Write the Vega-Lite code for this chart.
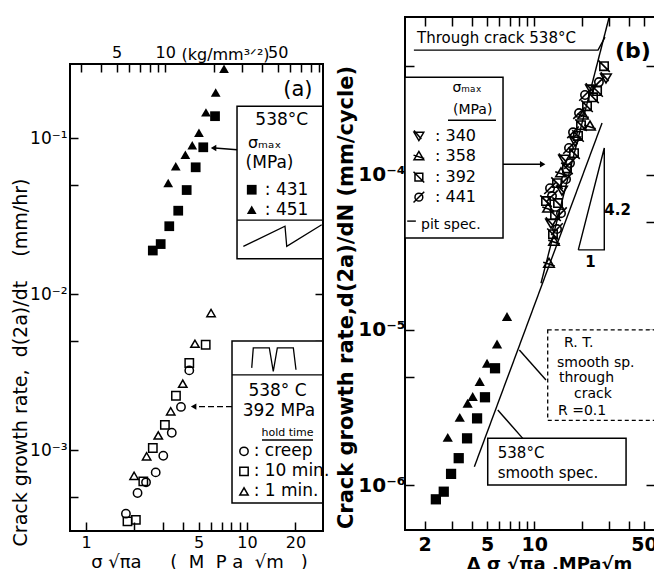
{
 "$schema": "https://vega.github.io/schema/vega-lite/v6.json",
 "padding": {"left": 11, "top": 13, "right": 0, "bottom": 0},
 "spacing": 4,
 "config": {
  "view": {"stroke": "black", "strokeWidth": 2},
  "axis": {"domain": false, "grid": false, "tickColor": "black", "tickWidth": 1.5, "labelColor": "black", "titleColor": "black", "labelFont": "DejaVu Sans", "titleFont": "DejaVu Sans", "labelFlush": false, "labelOverlap": false, "labelBound": false},
  "text": {"font": "DejaVu Sans", "color": "black"}
 },
 "datasets": {
  "a_frame": [{"x":0.7955,"x2":29.65,"y":0.0003027,"y2":0.298}],
  "a_filled": [
   {"x":6.33,"y":0.138,"s":"431"},{"x":5.35,"y":0.0872,"s":"431"},{"x":4.80,"y":0.0649,"s":"431"},{"x":4.22,"y":0.0464,"s":"431"},{"x":3.74,"y":0.0342,"s":"431"},{"x":3.29,"y":0.0272,"s":"431"},{"x":2.91,"y":0.0209,"s":"431"},{"x":2.60,"y":0.0190,"s":"431"},
   {"x":7.20,"y":0.278,"s":"451"},{"x":6.39,"y":0.196,"s":"451"},{"x":5.56,"y":0.146,"s":"451"},{"x":5.03,"y":0.108,"s":"451"},{"x":4.57,"y":0.0898,"s":"451"},{"x":4.14,"y":0.0782,"s":"451"},{"x":3.61,"y":0.0659,"s":"451"},{"x":3.24,"y":0.0515,"s":"451"}
  ],
  "a_open": [
   {"x":5.98,"y":0.00755,"s":"1 min."},{"x":4.75,"y":0.0048,"s":"1 min."},{"x":3.99,"y":0.00266,"s":"1 min."},{"x":3.36,"y":0.00177,"s":"1 min."},{"x":2.81,"y":0.00124,"s":"1 min."},{"x":2.38,"y":0.000912,"s":"1 min."},{"x":1.99,"y":0.000684,"s":"1 min."},
   {"x":5.54,"y":0.00473,"s":"10 min."},{"x":4.38,"y":0.00361,"s":"10 min."},{"x":3.62,"y":0.00223,"s":"10 min."},{"x":3.09,"y":0.00145,"s":"10 min."},{"x":2.60,"y":0.00103,"s":"10 min."},{"x":2.27,"y":0.00063,"s":"10 min."},{"x":2.04,"y":0.000357,"s":"10 min."},{"x":1.81,"y":0.000349,"s":"10 min."},
   {"x":4.38,"y":0.00324,"s":"creep"},{"x":3.89,"y":0.00189,"s":"creep"},{"x":3.41,"y":0.00129,"s":"creep"},{"x":3.02,"y":0.000919,"s":"creep"},{"x":2.71,"y":0.000719,"s":"creep"},{"x":2.36,"y":0.000621,"s":"creep"},{"x":2.09,"y":0.00053,"s":"creep"},{"x":1.77,"y":0.000391,"s":"creep"}
  ],
  "a_legf": [{"x":10.7,"y":0.0466,"s":"431"},{"x":10.7,"y":0.0347,"s":"451"}],
  "a_lego": [{"x":9.58,"y":0.000981,"s":"creep"},{"x":9.58,"y":0.00073,"s":"10 min."},{"x":9.58,"y":0.000543,"s":"1 min."}],
  "a_boxes": [{"x":8.67,"x2":29.65,"y":0.160,"y2":0.0168},{"x":8.07,"x2":29.65,"y":0.0050,"y2":0.000457}],
  "a_lines": [
   {"id":"W","o":1,"x":9.49,"y":0.0202},{"id":"W","o":2,"x":17.22,"y":0.0272},{"id":"W","o":3,"x":17.65,"y":0.0202},{"id":"W","o":4,"x":29.1,"y":0.0278},
   {"id":"P","o":1,"x":8.67,"y":0.0298},{"id":"P","o":2,"x":29.65,"y":0.0298},
   {"id":"Q","o":1,"x":8.07,"y":0.00303},{"id":"Q","o":2,"x":29.65,"y":0.00303},
   {"id":"V","o":1,"x":10.7,"y":0.00336},{"id":"V","o":2,"x":10.94,"y":0.00451},{"id":"V","o":3,"x":13.76,"y":0.00451},{"id":"V","o":4,"x":14.56,"y":0.00319},{"id":"V","o":5,"x":15.43,"y":0.00451},{"id":"V","o":6,"x":19.4,"y":0.00451},{"id":"V","o":7,"x":20.15,"y":0.00327},
   {"id":"H","o":1,"x":12.39,"y":0.00116},{"id":"H","o":2,"x":25.7,"y":0.00116},
   {"id":"X1","o":1,"x":8.67,"y":0.0841},{"id":"X1","o":2,"x":6.3,"y":0.0863}
  ],
  "a_dash": [{"id":"X2","o":1,"x":8.07,"y":0.0019},{"id":"X2","o":2,"x":4.75,"y":0.0019}],
  "a_heads": [{"x":6.2,"y":0.0863},{"x":4.66,"y":0.0019}],
  "a_tc": [{"x":16.43,"y":0.130,"t":"538°C"},{"x":15.47,"y":0.00240,"t":"538° C"},{"x":15.8,"y":0.00178,"t":"392 MPa"}],
  "a_tm": [{"x":13.8,"y":0.0689,"t":"(MPa)"}],
  "a_tl": [{"x":12.9,"y":0.0466,"t":": 431"},{"x":12.9,"y":0.0347,"t":": 451"},{"x":11.0,"y":0.000981,"t":": creep"},{"x":11.0,"y":0.00073,"t":": 10 min."},{"x":11.0,"y":0.000543,"t":": 1 min."}],
  "a_tsig": [{"x":10.14,"y":0.0925,"t":"σₘₐₓ"}],
  "a_ts": [{"x":17.85,"y":0.00129,"t":"hold time"}],
  "a_tlab": [{"x":20.7,"y":0.203,"t":"(a)"}],
  "b_filled": [
   {"x":6.70,"y":1.22e-5,"s":"tri"},{"x":5.79,"y":8.12e-6,"s":"tri"},{"x":5.00,"y":6.10e-6,"s":"tri"},{"x":4.49,"y":4.65e-6,"s":"tri"},{"x":4.05,"y":3.72e-6,"s":"tri"},{"x":3.76,"y":3.37e-6,"s":"tri"},{"x":3.35,"y":2.73e-6,"s":"tri"},{"x":2.81,"y":2.03e-6,"s":"tri"},
   {"x":5.62,"y":5.66e-6,"s":"sq"},{"x":4.85,"y":3.68e-6,"s":"sq"},{"x":4.32,"y":2.69e-6,"s":"sq"},{"x":3.73,"y":2.00e-6,"s":"sq"},{"x":3.30,"y":1.49e-6,"s":"sq"},{"x":2.95,"y":1.18e-6,"s":"sq"},{"x":2.65,"y":9.06e-7,"s":"sq"},{"x":2.36,"y":8.09e-7,"s":"sq"}
  ],
  "b_pit": [
   {"x":27.8,"y":5.02e-4,"s":"392"},{"x":28.6,"y":4.21e-4,"s":"340"},{"x":25.8,"y":3.96e-4,"s":"441"},{"x":25.1,"y":3.47e-4,"s":"392"},{"x":22.96,"y":3.57e-4,"s":"340"},{"x":21.03,"y":3.27e-4,"s":"441"},{"x":23.65,"y":3.16e-4,"s":"392"},{"x":21.66,"y":2.77e-4,"s":"392"},{"x":19.27,"y":2.50e-4,"s":"441"},{"x":20.43,"y":2.43e-4,"s":"358"},{"x":19.84,"y":2.09e-4,"s":"392"},{"x":22.63,"y":2.06e-4,"s":"358"},
   {"x":17.64,"y":1.88e-4,"s":"441"},{"x":18.98,"y":1.78e-4,"s":"392"},{"x":18.16,"y":1.65e-4,"s":"340"},{"x":16.63,"y":1.49e-4,"s":"441"},{"x":17.90,"y":1.38e-4,"s":"392"},{"x":15.46,"y":1.26e-4,"s":"340"},{"x":16.88,"y":1.19e-4,"s":"441"},{"x":16.15,"y":1.10e-4,"s":"392"},{"x":14.79,"y":1.03e-4,"s":"358"},{"x":15.92,"y":9.38e-5,"s":"441"},{"x":13.95,"y":8.84e-5,"s":"392"},{"x":15.01,"y":7.96e-5,"s":"340"},
   {"x":12.96,"y":7.29e-5,"s":"441"},{"x":14.16,"y":6.57e-5,"s":"392"},{"x":12.23,"y":6.10e-5,"s":"358"},{"x":13.55,"y":5.49e-5,"s":"392"},{"x":14.79,"y":5.66e-5,"s":"441"},{"x":12.78,"y":4.88e-5,"s":"340"},{"x":13.95,"y":4.47e-5,"s":"441"},{"x":13.15,"y":4.14e-5,"s":"392"},{"x":13.35,"y":3.73e-5,"s":"358"},{"x":12.40,"y":2.69e-5,"s":"358"},{"x":11.87,"y":6.77e-5,"s":"392"},{"x":12.59,"y":8.20e-5,"s":"441"}
  ],
  "b_leg": [{"x":1.84,"y":1.78e-4,"s":"340"},{"x":1.84,"y":1.32e-4,"s":"358"},{"x":1.84,"y":9.66e-5,"s":"392"},{"x":1.84,"y":7.18e-5,"s":"441"}],
  "b_lines": [
   {"id":"A","o":1,"x":4.15,"y":1.31e-6},{"id":"A","o":2,"x":27.0,"y":2.16e-4},
   {"id":"B","o":1,"x":11.03,"y":2.0e-5},{"id":"B","o":2,"x":29.9,"y":1.03e-3},
   {"id":"T","o":1,"x":19.06,"y":3.28e-5},{"id":"T","o":2,"x":27.9,"y":3.28e-5},{"id":"T","o":3,"x":27.9,"y":1.49e-4},{"id":"T","o":4,"x":19.06,"y":3.28e-5},
   {"id":"U","o":1,"x":1.71,"y":6.37e-4},{"id":"U","o":2,"x":25.45,"y":6.37e-4},{"id":"U","o":3,"x":28.2,"y":7.73e-4},
   {"id":"L","o":1,"x":6.32,"y":1.17e-4},{"id":"L","o":2,"x":11.0,"y":1.17e-4},
   {"id":"R","o":1,"x":11.87,"y":4.76e-6},{"id":"R","o":2,"x":8.03,"y":7.43e-6},
   {"id":"S","o":1,"x":8.44,"y":2.0e-6},{"id":"S","o":2,"x":5.85,"y":3.05e-6},
   {"id":"M","o":1,"x":2.82,"y":2.25e-4},{"id":"M","o":2,"x":5.70,"y":2.25e-4},
   {"id":"D","o":1,"x":1.55,"y":5.03e-5},{"id":"D","o":2,"x":1.76,"y":5.03e-5}
  ],
  "b_boxes": [{"x":1.501,"x2":6.32,"y":4.26e-4,"y2":3.91e-5},{"x":5.05,"x2":38.4,"y":2.0e-6,"y2":1.0e-6}],
  "b_dbox": [{"x":12.17,"x2":58.7,"y":1.0e-5,"y2":2.61e-6}],
  "b_heads": [{"x":11.3,"y":1.17e-4}],
  "b_tleg": [{"x":2.33,"y":1.78e-4,"t":": 340"},{"x":2.33,"y":1.32e-4,"t":": 358"},{"x":2.33,"y":9.66e-5,"t":": 392"},{"x":2.33,"y":7.18e-5,"t":": 441"}],
  "b_tsc": [{"x":3.73,"y":3.62e-4,"t":"σₘₐₓ"},{"x":4.05,"y":2.61e-4,"t":"(MPa)"}],
  "b_tsl": [{"x":1.90,"y":4.73e-5,"t":"pit spec."}],
  "b_tthr": [{"x":1.79,"y":7.62e-4,"t":"Through crack 538°C"}],
  "b_tb": [{"x":42.5,"y":6.28e-4,"t":"(b)"}],
  "b_trt": [{"x":15.46,"y":8.2e-6,"t":"R. T."},{"x":13.95,"y":6.16e-6,"t":"smooth sp."},{"x":14.36,"y":4.88e-6,"t":"through"},{"x":17.9,"y":3.87e-6,"t":"crack"},{"x":14.16,"y":2.98e-6,"t":"R =0.1"}],
  "b_t538": [{"x":5.85,"y":1.60e-6,"t":"538°C"},{"x":5.85,"y":1.19e-6,"t":"smooth spec."}],
  "b_tslope": [{"x":33.9,"y":5.94e-5,"t":"4.2"},{"x":22.75,"y":2.76e-5,"t":"1"}]
 },
 "resolve": {"scale": {"x": "independent", "y": "independent", "shape": "independent"}},
 "hconcat": [
  {
   "width": 253, "height": 514,
   "view": {"stroke": null},
   "encoding": {
    "x": {"field": "x", "type": "quantitative", "scale": {"type": "log", "domain": [0.7955, 29.65], "nice": false}, "axis": null},
    "y": {"field": "y", "type": "quantitative", "scale": {"type": "log", "domain": [0.0003027, 0.5965], "nice": false}, "axis": null}
   },
   "resolve": {"axis": {"x": "independent", "y": "independent"}},
   "layer": [
    {"data": {"name": "a_boxes"}, "mark": {"type": "rect", "fill": "white", "stroke": "black", "strokeWidth": 1.5}, "encoding": {"x2": {"field": "x2"}, "y2": {"field": "y2"}}},
    {"data": {"name": "a_lines"}, "mark": {"type": "line", "color": "black", "strokeWidth": 1.3}, "encoding": {"detail": {"field": "id", "type": "nominal"}, "order": {"field": "o", "type": "quantitative"}}},
    {"data": {"name": "a_dash"}, "mark": {"type": "line", "color": "black", "strokeWidth": 1.2, "strokeDash": [6, 3]}, "encoding": {"detail": {"field": "id", "type": "nominal"}, "order": {"field": "o", "type": "quantitative"}}},
    {"data": {"name": "a_heads"}, "mark": {"type": "point", "shape": "triangle-left", "filled": true, "color": "black", "size": 40, "opacity": 1}, "encoding": {}},
    {"data": {"name": "a_filled"}, "mark": {"type": "point", "filled": true, "color": "black", "size": 95, "opacity": 1},
     "encoding": {
      "x": {"field": "x", "type": "quantitative", "scale": {"type": "log", "domain": [0.7955, 29.65], "nice": false},
            "axis": {"orient": "bottom", "values": [1,2,3,4,5,6,7,8,9,10,20], "labelExpr": "indexof([1,5,10,20], datum.value) >= 0 ? '' + datum.value : ''", "tickSize": -9, "labelPadding": 12, "labelFontSize": 16, "title": "σ\u00a0√πa\u00a0\u00a0\u00a0\u00a0\u00a0(\u00a0\u00a0M\u00a0\u00a0P\u00a0a\u00a0\u00a0√m\u00a0\u00a0\u00a0)", "titleX": 129, "titleY": 31, "titleFontSize": 18, "titleFontWeight": "normal", "titleBaseline": "middle", "titleAlign": "center"}},
      "y": {"field": "y", "type": "quantitative", "scale": {"type": "log", "domain": [0.0003027, 0.5965], "nice": false},
            "axis": {"orient": "left", "values": [0.0005, 0.001, 0.005, 0.01, 0.05, 0.1], "labelExpr": "datum.value == 0.1 ? '10⁻¹' : datum.value == 0.01 ? '10⁻²' : datum.value == 0.001 ? '10⁻³' : ''", "tickSize": -8, "labelPadding": 11, "labelFontSize": 17, "title": "Crack growth rate,\u00a0\u00a0d(2a)/dt\u00a0\u00a0\u00a0\u00a0(mm/hr)", "titleX": -50, "titleY": 345, "titleFontSize": 19, "titleFontWeight": "normal", "titleAngle": -90, "titleBaseline": "middle", "titleAlign": "center"}},
      "shape": {"field": "s", "type": "nominal", "scale": {"domain": ["431", "451", "creep", "10 min.", "1 min."], "range": ["square", "triangle-up", "circle", "square", "triangle-up"]}, "legend": null}
     }},
    {"data": {"name": "a_open"}, "mark": {"type": "point", "filled": false, "color": "black", "strokeWidth": 1.5, "size": 70, "opacity": 1},
     "encoding": {"shape": {"field": "s", "type": "nominal", "scale": {"domain": ["431", "451", "creep", "10 min.", "1 min."], "range": ["square", "triangle-up", "circle", "square", "triangle-up"]}, "legend": null}}},
    {"data": {"name": "a_legf"}, "mark": {"type": "point", "filled": true, "color": "black", "size": 95, "opacity": 1},
     "encoding": {"shape": {"field": "s", "type": "nominal", "scale": {"domain": ["431", "451", "creep", "10 min.", "1 min."], "range": ["square", "triangle-up", "circle", "square", "triangle-up"]}, "legend": null}}},
    {"data": {"name": "a_lego"}, "mark": {"type": "point", "filled": false, "color": "black", "strokeWidth": 1.5, "size": 70, "opacity": 1},
     "encoding": {"shape": {"field": "s", "type": "nominal", "scale": {"domain": ["431", "451", "creep", "10 min.", "1 min."], "range": ["square", "triangle-up", "circle", "square", "triangle-up"]}, "legend": null}}},
    {"data": {"name": "a_tc"}, "mark": {"type": "text", "fontSize": 17, "align": "center", "baseline": "middle"}, "encoding": {"text": {"field": "t"}}},
    {"data": {"name": "a_tm"}, "mark": {"type": "text", "fontSize": 17, "align": "center", "baseline": "middle"}, "encoding": {"text": {"field": "t"}}},
    {"data": {"name": "a_tl"}, "mark": {"type": "text", "fontSize": 17, "align": "left", "baseline": "middle"}, "encoding": {"text": {"field": "t"}}},
    {"data": {"name": "a_tsig"}, "mark": {"type": "text", "fontSize": 16, "align": "left", "baseline": "middle"}, "encoding": {"text": {"field": "t"}}},
    {"data": {"name": "a_ts"}, "mark": {"type": "text", "fontSize": 11, "align": "center", "baseline": "middle"}, "encoding": {"text": {"field": "t"}}},
    {"data": {"name": "a_tlab"}, "mark": {"type": "text", "fontSize": 21, "align": "center", "baseline": "middle"}, "encoding": {"text": {"field": "t"}}},
    {"data": {"name": "a_frame"}, "mark": {"type": "rect", "fill": "transparent", "stroke": "black", "strokeWidth": 2}, "encoding": {"x2": {"field": "x2"}, "y2": {"field": "y2"}}},
    {"data": {"name": "a_filled"}, "mark": {"type": "point", "opacity": 0},
     "encoding": {
      "x": {"field": "x", "type": "quantitative", "scale": {"type": "log", "domain": [0.7955, 29.65], "nice": false},
            "axis": {"orient": "bottom", "offset": -467, "values": [0.93033, 1.24044, 1.55055, 1.86066, 2.17077, 2.48088, 2.79099, 3.1011, 6.2022, 9.3033, 12.4044, 15.5055, 18.6066, 21.7077, 24.8088, 27.9099], "labelExpr": "indexof([5,10,50], round(datum.value/0.31011)) >= 0 ? '' + round(datum.value/0.31011) : ''", "tickSize": 8, "labelPadding": -12, "labelBaseline": "bottom", "labelFontSize": 16, "title": "(kg/mm³ᐟ²)", "titleX": 155, "titleY": -10, "titleFontSize": 16, "titleFontWeight": "normal", "titleBaseline": "middle", "titleAlign": "center"}},
      "y": {"field": "y", "type": "quantitative", "scale": {"type": "log", "domain": [0.0003027, 0.5965], "nice": false},
            "axis": {"orient": "right", "values": [0.0005, 0.001, 0.005, 0.01, 0.05, 0.1], "labels": false, "tickSize": -8, "title": null}}
     }}
   ]
  },
  {
   "width": 250, "height": 513,
   "encoding": {
    "x": {"field": "x", "type": "quantitative", "scale": {"type": "log", "domain": [1.501, 58.7], "nice": false}, "axis": null},
    "y": {"field": "y", "type": "quantitative", "scale": {"type": "log", "domain": [5.13e-7, 0.001041], "nice": false}, "axis": null}
   },
   "resolve": {"axis": {"x": "independent", "y": "independent"}},
   "layer": [
    {"data": {"name": "b_boxes"}, "mark": {"type": "rect", "fill": "white", "stroke": "black", "strokeWidth": 1.5}, "encoding": {"x2": {"field": "x2"}, "y2": {"field": "y2"}}},
    {"data": {"name": "b_dbox"}, "mark": {"type": "rect", "fill": "white", "stroke": "black", "strokeWidth": 1.3, "strokeDash": [4, 3]}, "encoding": {"x2": {"field": "x2"}, "y2": {"field": "y2"}}},
    {"data": {"name": "b_lines"}, "mark": {"type": "line", "color": "black", "strokeWidth": 1.4}, "encoding": {"detail": {"field": "id", "type": "nominal"}, "order": {"field": "o", "type": "quantitative"}}},
    {"data": {"name": "b_heads"}, "mark": {"type": "point", "shape": "triangle-right", "filled": true, "color": "black", "size": 40, "opacity": 1}, "encoding": {}},
    {"data": {"name": "b_filled"}, "mark": {"type": "point", "filled": true, "color": "black", "size": 105, "opacity": 1},
     "encoding": {
      "x": {"field": "x", "type": "quantitative", "scale": {"type": "log", "domain": [1.501, 58.7], "nice": false},
            "axis": {"orient": "bottom", "values": [2,3,4,5,6,7,8,9,10,20,30,40,50], "labelExpr": "indexof([2,5,10,50], datum.value) >= 0 ? '' + datum.value : ''", "tickSize": -9, "labelPadding": 14, "labelFontSize": 19, "labelFontWeight": "bold", "title": "Δ\u00a0σ\u00a0√πa\u00a0,MPa√m", "titleX": 144, "titleY": 34, "titleFontSize": 18, "titleFontWeight": "bold", "titleBaseline": "middle", "titleAlign": "center"}},
      "y": {"field": "y", "type": "quantitative", "scale": {"type": "log", "domain": [5.13e-7, 0.001041], "nice": false},
            "axis": {"orient": "left", "values": [0.000001, 0.000005, 0.00001, 0.00005, 0.0001, 0.0005], "labelExpr": "datum.value == 0.0001 ? '10⁻⁴' : datum.value == 0.00001 ? '10⁻⁵' : datum.value == 0.000001 ? '10⁻⁶' : ''", "tickSize": -9, "labelPadding": 9, "labelFontSize": 20, "labelFontWeight": "bold", "title": "Crack growth rate,d(2a)/dN (mm/cycle)", "titleX": -59, "titleY": 280, "titleFontSize": 21, "titleFontWeight": "bold", "titleAngle": -90, "titleBaseline": "middle", "titleAlign": "center"}},
      "shape": {"field": "s", "type": "nominal", "scale": {"domain": ["sq", "tri", "340", "358", "392", "441"], "range": ["square", "triangle-up", "M-1,-0.75L1,-0.75L0,0.95Z M-1,-1.1L0.5,0.6", "M-1,0.75L1,0.75L0,-0.95Z M-1.1,-0.2L1.1,0.5", "M-0.8,-0.8L0.8,-0.8L0.8,0.8L-0.8,0.8Z M-1.1,-1.1L1.1,1.1", "M0.8,0A0.8,0.8,0,1,1,-0.8,0A0.8,0.8,0,1,1,0.8,0Z M-1.1,1.1L1.1,-1.1"]}, "legend": null}
     }},
    {"data": {"name": "b_pit"}, "mark": {"type": "point", "filled": false, "color": "black", "strokeWidth": 1.6, "size": 110, "opacity": 1},
     "encoding": {"shape": {"field": "s", "type": "nominal", "scale": {"domain": ["sq", "tri", "340", "358", "392", "441"], "range": ["square", "triangle-up", "M-1,-0.75L1,-0.75L0,0.95Z M-1,-1.1L0.5,0.6", "M-1,0.75L1,0.75L0,-0.95Z M-1.1,-0.2L1.1,0.5", "M-0.8,-0.8L0.8,-0.8L0.8,0.8L-0.8,0.8Z M-1.1,-1.1L1.1,1.1", "M0.8,0A0.8,0.8,0,1,1,-0.8,0A0.8,0.8,0,1,1,0.8,0Z M-1.1,1.1L1.1,-1.1"]}, "legend": null}}},
    {"data": {"name": "b_leg"}, "mark": {"type": "point", "filled": false, "color": "black", "strokeWidth": 1.5, "size": 95, "opacity": 1},
     "encoding": {"shape": {"field": "s", "type": "nominal", "scale": {"domain": ["sq", "tri", "340", "358", "392", "441"], "range": ["square", "triangle-up", "M-1,-0.75L1,-0.75L0,0.95Z M-1,-1.1L0.5,0.6", "M-1,0.75L1,0.75L0,-0.95Z M-1.1,-0.2L1.1,0.5", "M-0.8,-0.8L0.8,-0.8L0.8,0.8L-0.8,0.8Z M-1.1,-1.1L1.1,1.1", "M0.8,0A0.8,0.8,0,1,1,-0.8,0A0.8,0.8,0,1,1,0.8,0Z M-1.1,1.1L1.1,-1.1"]}, "legend": null}}},
    {"data": {"name": "b_tleg"}, "mark": {"type": "text", "fontSize": 16, "align": "left", "baseline": "middle"}, "encoding": {"text": {"field": "t"}}},
    {"data": {"name": "b_tsc"}, "mark": {"type": "text", "fontSize": 14, "align": "center", "baseline": "middle"}, "encoding": {"text": {"field": "t"}}},
    {"data": {"name": "b_tsl"}, "mark": {"type": "text", "fontSize": 14, "align": "left", "baseline": "middle"}, "encoding": {"text": {"field": "t"}}},
    {"data": {"name": "b_tthr"}, "mark": {"type": "text", "fontSize": 15, "align": "left", "baseline": "middle"}, "encoding": {"text": {"field": "t"}}},
    {"data": {"name": "b_tb"}, "mark": {"type": "text", "fontSize": 22, "fontWeight": "bold", "align": "center", "baseline": "middle"}, "encoding": {"text": {"field": "t"}}},
    {"data": {"name": "b_trt"}, "mark": {"type": "text", "fontSize": 14, "align": "left", "baseline": "middle"}, "encoding": {"text": {"field": "t"}}},
    {"data": {"name": "b_t538"}, "mark": {"type": "text", "fontSize": 15, "align": "left", "baseline": "middle"}, "encoding": {"text": {"field": "t"}}},
    {"data": {"name": "b_tslope"}, "mark": {"type": "text", "fontSize": 15, "fontWeight": "bold", "align": "center", "baseline": "middle"}, "encoding": {"text": {"field": "t"}}},
    {"data": {"name": "b_filled"}, "mark": {"type": "point", "opacity": 0},
     "encoding": {
      "x": {"field": "x", "type": "quantitative", "scale": {"type": "log", "domain": [1.501, 58.7], "nice": false},
            "axis": {"orient": "top", "values": [2,3,4,5,6,7,8,9,10,20,30,40,50], "labels": false, "tickSize": -9, "title": null}},
      "y": {"field": "y", "type": "quantitative", "scale": {"type": "log", "domain": [5.13e-7, 0.001041], "nice": false},
            "axis": {"orient": "right", "values": [0.000001, 0.000005, 0.00001, 0.00005, 0.0001, 0.0005], "labels": false, "tickSize": -9, "title": null}}
     }}
   ]
  }
 ]
}
